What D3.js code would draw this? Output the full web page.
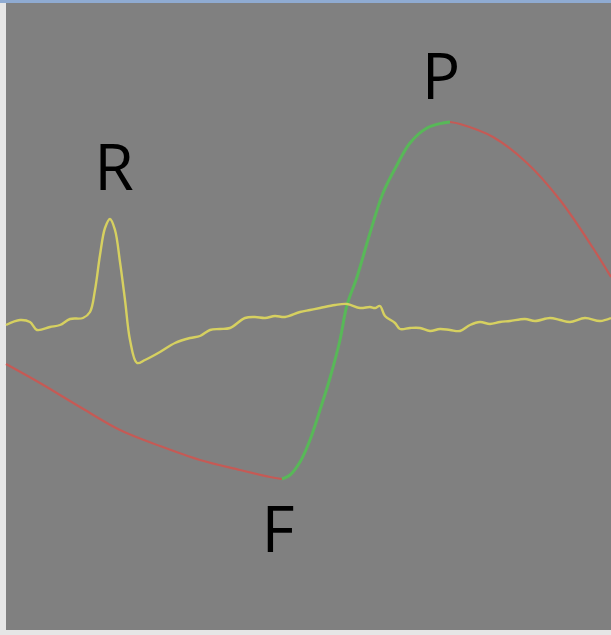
<!DOCTYPE html>
<html><head><meta charset="utf-8">
<script src="https://cdn.jsdelivr.net/npm/d3@7"></script>
<style>html,body{margin:0;padding:0;background:#fff;}svg{display:block;}</style>
</head><body>
<script>
// time (arbitrary units) and amplitude (arbitrary units) of the yellow trace
const ecgTime = [0,14,24,31,44,54,64,77,84,89,94,99,104,109,114,119,124,131,139,154,169,184,194,204,214,224,239,249,259,269,279,294,304,314,329,341,354,364,369,374,379,389,394,404,414,424,434,444,454,464,474,484,494,504,519,529,544,554,564,579,594,605];
const ecgValue = [5,10,8,0,3,5,11,12,18,40,75,102,111,100,68,30,-10,-33,-30,-22,-13,-8,-6,0,1,2,12,13,12,14,13,18,20,22,25,26,22,23,22,24,14,7,1,2,2,-1,1,0,-1,5,8,6,8,9,11,9,12,10,8,12,9,12];
// slow wave trace, split into phases
const waveTime = [0,34,74,114,154,194,234,264,276,284,294,304,314,324,334,341,351,364,377,391,404,421,437,444,454,487,521,554,587,605];
const waveValue = [-34,-53,-77,-100,-116,-130,-140,-147,-149,-145,-132,-110,-80,-48,-10,25,53,97,137,165,187,202,207,208,206,193,167,130,82,53];
const phaseF = 276, phaseP = 444;
const labels = ["R","F","P"];
const labelTime = [108, 272, 435];
const labelValue = [140, -222, 231];

const W = 611, H = 635;
const svg = d3.select("body").append("svg").attr("width", W).attr("height", H);
svg.append("rect").attr("x",0).attr("y",0).attr("width",W).attr("height",H).attr("fill","#e6e6e6");
svg.append("rect").attr("x",6).attr("y",3).attr("width",W-6).attr("height",627).attr("fill","#808080");
svg.append("rect").attr("x",0).attr("y",0).attr("width",W).attr("height",3).attr("fill","#8fabd2");

const x = d3.scaleLinear().domain([0,605]).range([6,611]);
const y = d3.scaleLinear().domain([-300,327]).range([630,3]);

const g = svg.append("g");
const ecg = ecgTime.map((t,i)=>[t, ecgValue[i]]);
const wave = waveTime.map((t,i)=>[t, waveValue[i]]);
const line = d3.line().x(d=>x(d[0])).y(d=>y(d[1])).curve(d3.curveCatmullRom.alpha(0.5));

const seg1 = wave.filter(d=>d[0]<=phaseF);
const seg2 = wave.filter(d=>d[0]>=phaseF && d[0]<=phaseP);
const seg3 = wave.filter(d=>d[0]>=phaseP);

g.append("path").attr("d", line(seg1)).attr("fill","none").attr("stroke","#c55a55").attr("stroke-width",2.2);
g.append("path").attr("d", line(seg3)).attr("fill","none").attr("stroke","#c55a55").attr("stroke-width",2.2);
g.append("path").attr("d", line(seg2)).attr("fill","none").attr("stroke","#58b858").attr("stroke-width",3);
g.append("path").attr("d", line(ecg)).attr("fill","none").attr("stroke","#d6d060").attr("stroke-width",2.4);

svg.selectAll("text.lbl").data(labels).enter().append("text")
  .attr("class","lbl")
  .attr("x",(d,i)=>x(labelTime[i])).attr("y",(d,i)=>y(labelValue[i]))
  .attr("text-anchor","middle")
  .attr("font-family","'Open Sans', sans-serif").attr("font-size",64)
  .attr("fill","#000").text(d=>d);
</script>
</body></html>
